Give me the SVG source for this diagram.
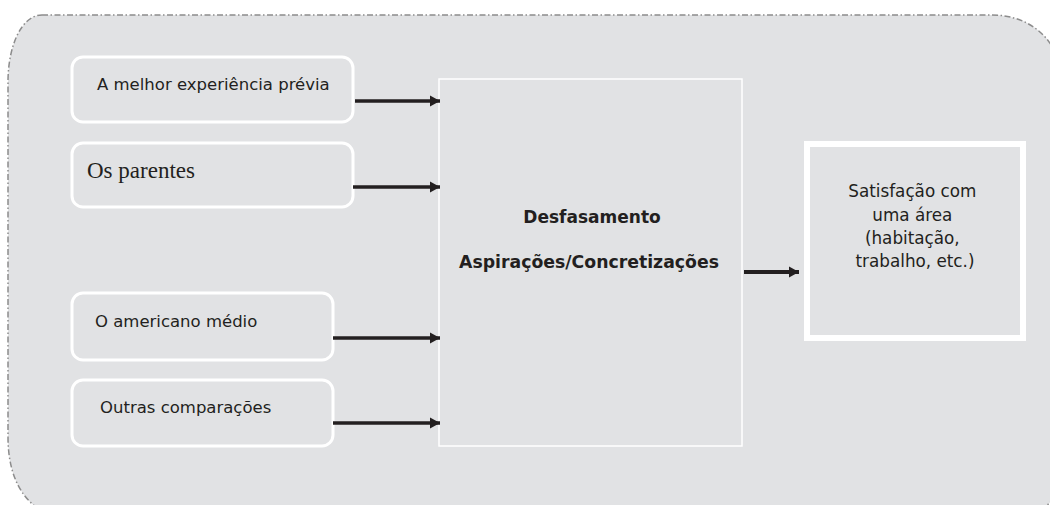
<svg xmlns="http://www.w3.org/2000/svg" width="1050" height="505" viewBox="0 0 1050 505">
  <style>
    .bg { fill: #e1e2e4; stroke: #8c8c8c; stroke-width: 1.5; stroke-dasharray: 6 2.5 1.5 2.5; }
    .src { fill: #e1e2e4; stroke: #ffffff; stroke-width: 3; }
    .mid { fill: #e1e2e4; stroke: #ffffff; stroke-width: 1.5; }
    .out { fill: #e1e2e4; stroke: #ffffff; stroke-width: 6; }
    .sans { font-family: "DejaVu Sans", "Liberation Sans", sans-serif; fill: #231f20; }
    .serif { font-family: "Liberation Serif", serif; fill: #231f20; }
    .conn { stroke: #231f20; fill: none; }
  </style>
  <defs>
    <marker id="ah" markerUnits="userSpaceOnUse" markerWidth="14" markerHeight="14" refX="10" refY="7" orient="auto">
      <path d="M0,1.5 L10,7 L0,12.5 Z" fill="#231f20"/>
    </marker>
  </defs>
  <path id="frame" class="bg" d="M 42,15 L 992,15 C 1030,15 1062,40 1062,85 L 1062,470 C 1062,500 1040,520 1000,520 L 80,520 C 30,520 8,485 8,437 L 8,82 C 8,45 22,15 42,15 Z"/>
  <g id="n1">
    <rect class="src" x="72" y="57" width="281" height="65" rx="11"/>
    <text class="sans" x="97" y="90" font-size="16.5">A melhor experiência prévia</text>
  </g>
  <g id="n2">
    <rect class="src" x="72" y="143" width="281" height="64" rx="11"/>
    <text class="serif" x="87" y="178" font-size="23">Os parentes</text>
  </g>
  <g id="n3">
    <rect class="src" x="72" y="293" width="261" height="67" rx="11"/>
    <text class="sans" x="95" y="327" font-size="16.5">O americano médio</text>
  </g>
  <g id="n4">
    <rect class="src" x="72" y="380" width="261" height="66" rx="11"/>
    <text class="sans" x="100" y="413" font-size="16.5">Outras comparações</text>
  </g>
  <g id="n5">
    <rect class="mid" x="439" y="79" width="303" height="367"/>
    <text class="sans" x="592" y="223" font-size="17" font-weight="bold" text-anchor="middle">Desfasamento</text>
    <text class="sans" x="589" y="268" font-size="17.3" font-weight="bold" text-anchor="middle">Aspirações/Concretizações</text>
  </g>
  <g id="n6">
    <rect class="out" x="807" y="144" width="216" height="194"/>
    <text class="sans" font-size="16.8" text-anchor="middle">
      <tspan x="915" y="197">Satisfação com</tspan>
      <tspan x="915" y="221">uma área</tspan>
      <tspan x="915" y="244">(habitação,</tspan>
      <tspan x="915" y="267">trabalho, etc.)</tspan>
    </text>
  </g>
  <g id="connectors">
    <line class="conn" x1="355" y1="101" x2="440" y2="101" stroke-width="3.5" marker-end="url(#ah)"/>
    <line class="conn" x1="353" y1="187" x2="440" y2="187" stroke-width="3.5" marker-end="url(#ah)"/>
    <line class="conn" x1="333" y1="338" x2="440" y2="338" stroke-width="3.5" marker-end="url(#ah)"/>
    <line class="conn" x1="333" y1="423" x2="440" y2="423" stroke-width="3.5" marker-end="url(#ah)"/>
    <line class="conn" x1="744" y1="272" x2="799" y2="272" stroke-width="4" marker-end="url(#ah)"/>
  </g>
</svg>
